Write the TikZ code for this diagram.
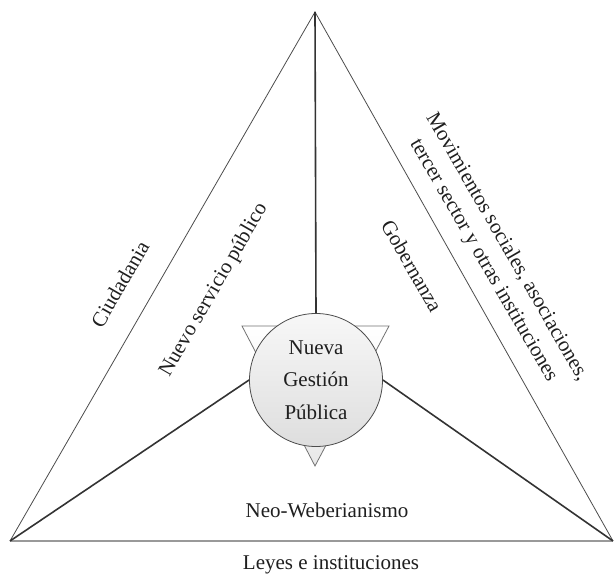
\documentclass[tikz,border=0pt]{standalone}
\usepackage{fontspec}
\setmainfont{Liberation Serif}
\begin{document}
\begin{tikzpicture}[x=1pt,y=-1pt,
  lbl/.style={font=\fontsize{21}{27}\selectfont, text=black!88, inner sep=0pt, align=center},
  side/.style={draw=black!70, line width=0.8pt},
  spoke/.style={draw=black!80, line width=1.6pt},
  basel/.style={draw=black!40, line width=2.6pt},
  hub/.style={circle, minimum size=133pt, inner sep=0pt, draw=black!70, line width=0.8pt,
    top color=black!3, bottom color=black!13, align=center, text=black!88,
    font=\fontsize{21}{32.5}\selectfont},
  wedge/.style={draw=black!55, line width=0.8pt, top color=white, bottom color=black!9},
]
\useasboundingbox (0,0) rectangle (614,580);
\coordinate (A) at (315,12);
\coordinate (L) at (10,541);
\coordinate (R) at (613,541);
% triangle
\draw[side] (L) -- (A) -- (R);
\draw[basel] (L) -- (R);
% inverted triangle behind hub
\path[wedge] (242,326) -- (389,326) -- (315,466) -- cycle;
% hub
\node[hub] (ngp) at (316,380) {Nueva\\Gestión\\Pública};
% spokes
\draw[spoke] (A) -- (ngp.north);
\draw[spoke] (L) -- (ngp.west);
\draw[spoke] (R) -- (ngp.east);
% labels
\node[lbl, rotate=60] (ciud) at (120,284) {Ciudadania};
\node[lbl, rotate=60] (nsp) at (214,290) {Nuevo servicio público};
\node[lbl, rotate=-60] (gob) at (412,266) {Gobernanza};
\node[lbl, rotate=-60] (mov) at (495,254) {Movimientos sociales, asociaciones,\\tercer sector y otras instituciones};
\node[lbl] (neo) at (327,510) {Neo-Weberianismo};
\node[lbl] (ley) at (331,565) {Leyes e instituciones};
\end{tikzpicture}
\end{document}
